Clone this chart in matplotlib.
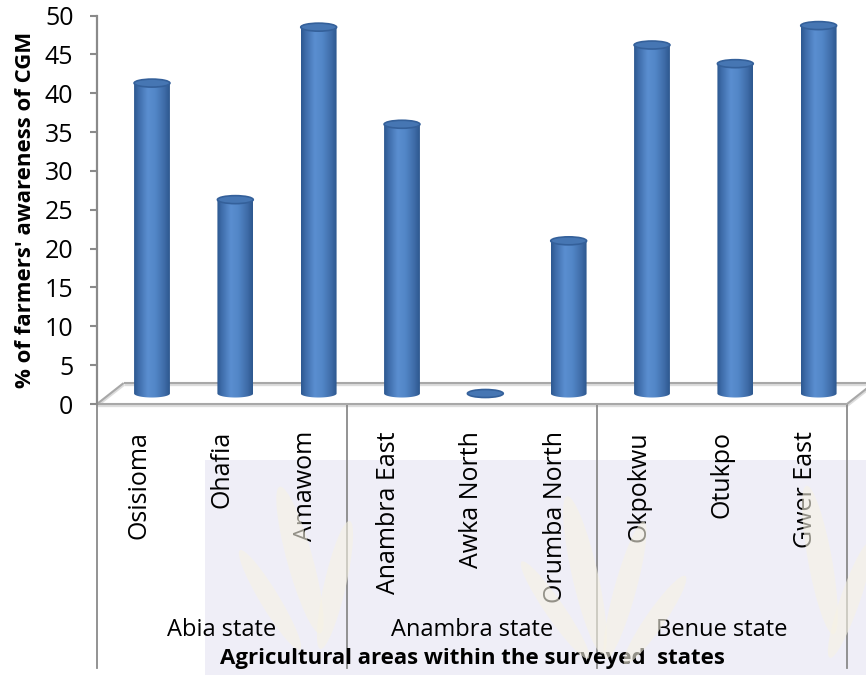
import numpy as np
import matplotlib
matplotlib.use("Agg")
import matplotlib.pyplot as plt
from matplotlib.patches import Ellipse, Polygon, Rectangle
from matplotlib.colors import LinearSegmentedColormap

# ---- data -------------------------------------------------------------
areas = ["Osisioma", "Ohafia", "Amawom",
         "Anambra East", "Awka North", "Orumba North",
         "Okpokwu", "Otukpo", "Gwer East"]
states = ["Abia state", "Anambra state", "Benue state"]
areas_per_state = [3, 3, 3]
awareness = [41.3, 26.3, 48.5, 36.0, 0.0, 21.0, 46.2, 43.8, 48.7]
y_ticks = [0, 5, 10, 15, 20, 25, 30, 35, 40, 45, 50]

y_label = "% of farmers' awareness of CGM"
x_label = "Agricultural areas within the surveyed  states"

# ---- style --------------------------------------------------------------
plt.rcParams["font.family"] = ["Open Sans", "DejaVu Sans"]
AXIS_GREY = "#8a8a8a"
W, H = 866, 675

fig = plt.figure(figsize=(W / 100, H / 100), dpi=100)
fig.patch.set_facecolor("white")

# faint watermark in the lower background
wm = Rectangle((205 / W, 0), (W - 205) / W, (H - 460) / H,
               transform=fig.transFigure, facecolor="#efeef7",
               edgecolor="none", zorder=0)
fig.add_artist(wm)
for cx, cy, ww, hh, ang in [(300, 560, 26, 150, 12), (335, 585, 22, 130, -10),
                            (270, 600, 20, 110, 25),
                            (585, 575, 26, 160, 10), (625, 590, 22, 140, -12),
                            (555, 610, 20, 110, 28), (655, 620, 20, 100, -28),
                            (820, 560, 24, 150, 8), (850, 600, 20, 120, -15)]:
    leaf = Ellipse((cx / W, 1 - cy / H), ww / W, hh / H, angle=ang,
                   transform=fig.transFigure, facecolor="#f7f3e4",
                   edgecolor="none", alpha=0.6, zorder=0.5)
    fig.add_artist(leaf)

ax = fig.add_axes([97 / W, 1 - 404 / H, 750 / W, 388.5 / H])
ax.set_facecolor("none")
n = len(areas)
ax.set_xlim(0, n)
ax.set_ylim(0, 50)

# floor depth (data units) and the mid-depth plane the cylinders stand on
depth_x, depth_y = 0.32, 2.7
mid_x, mid_y = depth_x / 2, depth_y / 2
bar_w, cap_h = 0.43, 1.03

# floor outline with a soft shadow
floor_front = ([0, n], [0, 0])
floor_back = ([depth_x, n + depth_x], [depth_y, depth_y])
floor_left = ([0, depth_x], [0, depth_y])
floor_right = ([n, n + depth_x], [0, depth_y])
for xs, ys in (floor_front, floor_back, floor_left, floor_right):
    ax.plot(xs, [y - 0.18 for y in ys], color="#dcdcdc", lw=2.4,
            solid_capstyle="butt", clip_on=False, zorder=1)
    ax.plot(xs, ys, color="#a8a8a8", lw=1.5, solid_capstyle="butt",
            clip_on=False, zorder=1.1)

# cylinder shading across the width
body_cmap = LinearSegmentedColormap.from_list(
    "cyl", [(0.0, "#2c5890"), (0.12, "#3e6ca9"), (0.38, "#5a8ed0"),
            (0.6, "#5286c7"), (0.85, "#3f6ca8"), (1.0, "#2d588f")])
grad = np.linspace(0, 1, 64).reshape(1, -1)

for i, val in enumerate(awareness):
    cx = i + 0.5 + mid_x
    base = mid_y
    top = max(val, base)
    left, right = cx - bar_w / 2, cx + bar_w / 2
    theta = np.linspace(np.pi, 2 * np.pi, 60)
    arc = np.column_stack([cx + bar_w / 2 * np.cos(theta),
                           base + cap_h / 2 * np.sin(theta)])
    outline = np.vstack([[[left, top]], arc, [[right, top]]])
    body = Polygon(outline, closed=True, transform=ax.transData,
                   facecolor="none", edgecolor="none")
    ax.add_patch(body)
    img = ax.imshow(grad, cmap=body_cmap, aspect="auto",
                    extent=(left, right, base - cap_h / 2, top),
                    interpolation="bicubic", zorder=2)
    img.set_clip_path(body)
    cap = Ellipse((cx, top), bar_w, cap_h, facecolor="#4676b3",
                  edgecolor="#34609a", lw=1.2, zorder=3)
    ax.add_patch(cap)

# value axis
for side in ("top", "right", "bottom"):
    ax.spines[side].set_visible(False)
ax.spines["left"].set_color(AXIS_GREY)
ax.spines["left"].set_linewidth(1.6)
ax.set_yticks(y_ticks)
ax.set_yticklabels([str(t) for t in y_ticks])
ax.tick_params(axis="y", direction="out", length=5, width=1.5,
               color=AXIS_GREY, labelsize=18, pad=12, labelcolor="black")
ax.set_xticks([])
ax.set_ylabel(y_label, fontsize=16, fontweight="bold", labelpad=6)

# two-level category axis
xt = ax.get_xaxis_transform()
bounds = np.concatenate([[0], np.cumsum(areas_per_state)])
for b in bounds:
    ax.plot([b, b], [0, -0.68], transform=xt, color=AXIS_GREY, lw=1.3,
            clip_on=False, zorder=1)
for i, name in enumerate(areas):
    ax.text(i + 0.5, -0.07, name, transform=xt, rotation=90,
            ha="center", va="top", fontsize=18)
for s, name in enumerate(states):
    mid = (bounds[s] + bounds[s + 1]) / 2
    ax.text(mid, -0.582, name, transform=xt, ha="center", va="center",
            fontsize=17)
ax.text(0.5, -0.655, x_label, transform=ax.transAxes, ha="center",
        va="center", fontsize=16, fontweight="bold")

fig.savefig("out.png", dpi=100)
